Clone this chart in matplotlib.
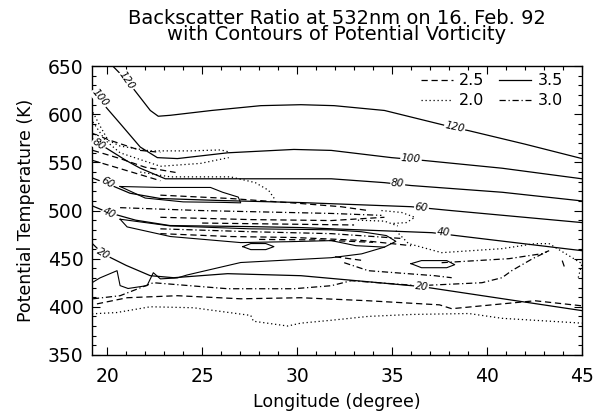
import matplotlib
matplotlib.use("Agg")
import matplotlib.pyplot as plt
from matplotlib.lines import Line2D
from matplotlib.ticker import MultipleLocator

# potential vorticity contours, (longitude, potential temperature)
pv_120 = [(20.2, 652), (21.05, 635), (22.27, 604), (22.69, 598), (23.33, 599), (25.5, 604),
          (28.09, 609), (30.2, 610), (31.95, 609), (34.6, 604), (38.3, 586), (39.04, 583),
          (42.0, 569), (45.0, 554)]
pv_100 = [(19.2, 627), (19.78, 611), (20.7, 590), (21.74, 566), (22.64, 555), (23.7, 554),
          (26.34, 560), (29.83, 563.5), (31.8, 562.5), (34.97, 555), (36.7, 552), (40.79, 544),
          (45.0, 533)]
pv_80 = [(19.2, 575), (19.62, 569), (21.0, 552), (21.74, 544), (23.06, 533), (26.34, 533),
         (31.8, 533), (34.6, 529), (36.0, 526), (40.8, 519), (45.0, 510)]
pv_60 = [(19.2, 534), (20.0, 528), (21.2, 518), (22.8, 512.5), (26.0, 510.4), (30.2, 508.3),
         (36.0, 504), (38.1, 500), (45.0, 487.5)]
pv_40 = [(19.2, 505), (20.05, 498), (21.5, 490), (23.3, 484.4), (27.6, 483.3), (30.2, 482.3),
         (37.1, 477), (45.0, 458.3)]
pv_20 = [(19.2, 466), (19.78, 455), (21.0, 443), (22.27, 432.3), (23.5, 430.2), (26.34, 434.4),
         (30.2, 432.3), (36.55, 421), (45.0, 396)]

pv_label_text = ["120", "100", "80", "60", "40", "20", "120", "100", "80", "60", "40", "20"]
pv_label_lon = [21.05, 19.62, 19.57, 20.0, 20.1, 19.78, 38.3, 36.0, 35.3, 36.55, 37.7, 36.55]
pv_label_theta = [635, 617, 569, 529, 497, 455, 586.5, 554, 528, 503, 477, 421]
pv_label_angle = [-55, -50, -35, -30, -25, -30, -12, -4, -3, -5, -3, -6]

# backscatter ratio contours
bsr_2_0 = [
    [(19.25, 602), (19.62, 588), (20.05, 573), (20.68, 567), (22.27, 562), (24.39, 562),
     (25.97, 563), (26.4, 561)],
    [(19.25, 592), (19.9, 573), (20.68, 560), (22.8, 546), (24.91, 549), (26.4, 555)],
    [(21.74, 540), (23.33, 535), (26.5, 535), (27.8, 529), (28.5, 521), (28.8, 512.5)],
    [(34.44, 500), (35.5, 498), (36.2, 493), (35.76, 487.5), (34.97, 486.5)],
    [(33.2, 490), (34.6, 489), (35.3, 484)],
    [(35.2, 479), (35.87, 465.6), (37.61, 456.25), (40.79, 460.4), (42.53, 465.6),
     (43.27, 465.6), (45.0, 444.8), (44.8, 430)],
    [(19.2, 392.7), (20.5, 394), (22.27, 400), (24.54, 399), (27.56, 391), (27.7, 385),
     (29.5, 380), (30.2, 383), (31.8, 386), (33.75, 390), (36.0, 392), (39.04, 393),
     (40.8, 388), (45.0, 383)],
]
bsr_2_5 = [
    [(19.25, 580), (20.15, 573), (21.74, 562.5), (22.8, 560.5)],
    [(19.25, 562.5), (20.68, 554), (22.0, 545), (23.6, 539.6)],
    [(19.25, 552), (20.95, 542), (22.8, 531)],
    [(22.8, 516), (26.5, 512.5), (30.2, 507.3), (32.3, 504), (33.75, 500)],
    [(22.8, 493), (27.56, 490.6), (31.8, 489.6), (34.6, 493)],
    [(25.0, 487), (29.0, 486), (33.0, 485)],
    [(22.8, 476), (26.5, 473), (29.83, 472), (33.38, 469), (36.0, 463.5)],
    [(28.0, 470), (31.0, 469.5), (34.0, 467)],
    [(32.0, 452), (33.5, 448)],
    [(19.46, 403), (21.05, 409.4), (23.7, 411.5), (27.03, 408.3), (30.2, 409.4),
     (33.75, 406.25), (37.5, 402), (38.14, 398), (40.79, 403), (42.53, 406.25), (45.0, 401)],
]
bsr_3_0 = [
    [(20.68, 503), (24.91, 500), (31.8, 497), (34.44, 495)],
    [(22.8, 481), (27.56, 478), (31.8, 476), (35.5, 471)],
    [(19.25, 408.3), (20.68, 411.5), (22.43, 425), (26.34, 418.75), (29.83, 418.75),
     (31.8, 421.9), (32.85, 427.1), (36.4, 421.9), (39.73, 425), (40.79, 430.2),
     (41.3, 437.5), (42.4, 450), (43.27, 458.3)],
    [(32.48, 445.8), (33.75, 437.5), (37.24, 432.3), (38.14, 430.2)],
    [(37.61, 445.8), (41.16, 450), (42.9, 455.2), (43.27, 458.3)],
    [(43.96, 448), (44.1, 440)],
]
bsr_3_5 = [
    [(20.68, 525), (22.8, 524), (25.44, 524), (26.08, 519), (26.9, 514), (27.03, 508),
     (26.0, 508.5), (24.0, 509), (22.0, 513), (20.68, 525)],
    [(20.68, 491), (23.33, 484), (27.56, 481), (31.8, 480), (33.38, 478), (34.7, 474),
     (35.2, 468), (34.6, 462), (33.1, 463.5), (31.8, 468.75), (29.7, 467.7), (27.03, 466.7),
     (23.33, 473), (21.05, 483), (20.68, 491)],
    [(27.14, 462.5), (27.56, 465.7), (28.35, 465.7), (28.78, 462.5), (28.35, 459.4),
     (27.56, 459.4), (27.14, 462.5)],
    [(36.0, 444.8), (36.55, 448), (37.88, 448), (38.3, 443.75), (37.88, 440.6),
     (36.55, 440.6), (36.0, 444.8)],
    [(19.2, 425), (19.62, 430), (20.52, 437.5), (20.68, 422), (21.1, 419), (22.1, 422),
     (22.43, 435.4), (22.8, 429), (23.7, 430), (24.2, 433), (27.03, 446), (31.8, 451),
     (33.4, 455), (34.6, 462)],
]

styles = {
    "2.0": (0, (1, 2.2)),
    "2.5": (0, (5, 3)),
    "3.0": (0, (5, 2.2, 1, 2.2)),
    "3.5": "-",
}

plt.rcParams["font.family"] = ["DejaVu Sans"]
fig = plt.figure(figsize=(5.95, 4.19), dpi=100)
ax = fig.add_axes([0.1546, 0.153, 0.8235, 0.689])


def draw(lines, ls, lw):
    for line in lines:
        xs = [p[0] for p in line]
        ys = [p[1] for p in line]
        ax.plot(xs, ys, color="black", ls=ls, lw=lw)


draw(bsr_2_0, styles["2.0"], 0.9)
draw(bsr_2_5, styles["2.5"], 0.9)
draw(bsr_3_0, styles["3.0"], 0.9)
draw(bsr_3_5, styles["3.5"], 0.8)
draw([pv_120, pv_100, pv_80, pv_60, pv_40, pv_20], "-", 0.9)

for txt, lo, th, ang in zip(pv_label_text, pv_label_lon, pv_label_theta, pv_label_angle):
    ax.text(lo, th, txt, fontsize=7.5, rotation=ang, ha="center", va="center",
            rotation_mode="anchor", style="italic",
            bbox=dict(facecolor="white", edgecolor="none", pad=0.6))

handles = [Line2D([], [], color="black", lw=0.9, ls=styles[k]) for k in ["2.5", "2.0", "3.5", "3.0"]]
ax.legend(handles, ["2.5", "2.0", "3.5", "3.0"], ncol=2, loc="upper right", frameon=False,
          fontsize=11.5, handlelength=2.0, handletextpad=0.4, columnspacing=0.9,
          labelspacing=0.3, bbox_to_anchor=(0.99, 1.025))

ax.set_xlim(19.2, 45)
ax.set_ylim(350, 650)
ax.xaxis.set_major_locator(MultipleLocator(5))
ax.xaxis.set_minor_locator(MultipleLocator(1))
ax.yaxis.set_major_locator(MultipleLocator(50))
ax.yaxis.set_minor_locator(MultipleLocator(10))
ax.tick_params(which="both", direction="in", top=True, right=True, width=0.8, labelsize=13.5)
ax.tick_params(which="major", length=6)
ax.tick_params(which="minor", length=3)
ax.tick_params(axis="x", which="major", pad=9)
ax.tick_params(axis="y", which="major", pad=6)
for s in ax.spines.values():
    s.set_linewidth(1.0)

ax.set_xlabel("Longitude (degree)", fontsize=12.5, labelpad=5)
ax.set_ylabel("Potential Temperature (K)", fontsize=12.5, labelpad=9)
ax.set_title("Backscatter Ratio at 532nm on 16. Feb. 92\nwith Contours of Potential Vorticity",
             fontsize=14, linespacing=0.8, pad=19)

fig.savefig("out.png", dpi=100)
